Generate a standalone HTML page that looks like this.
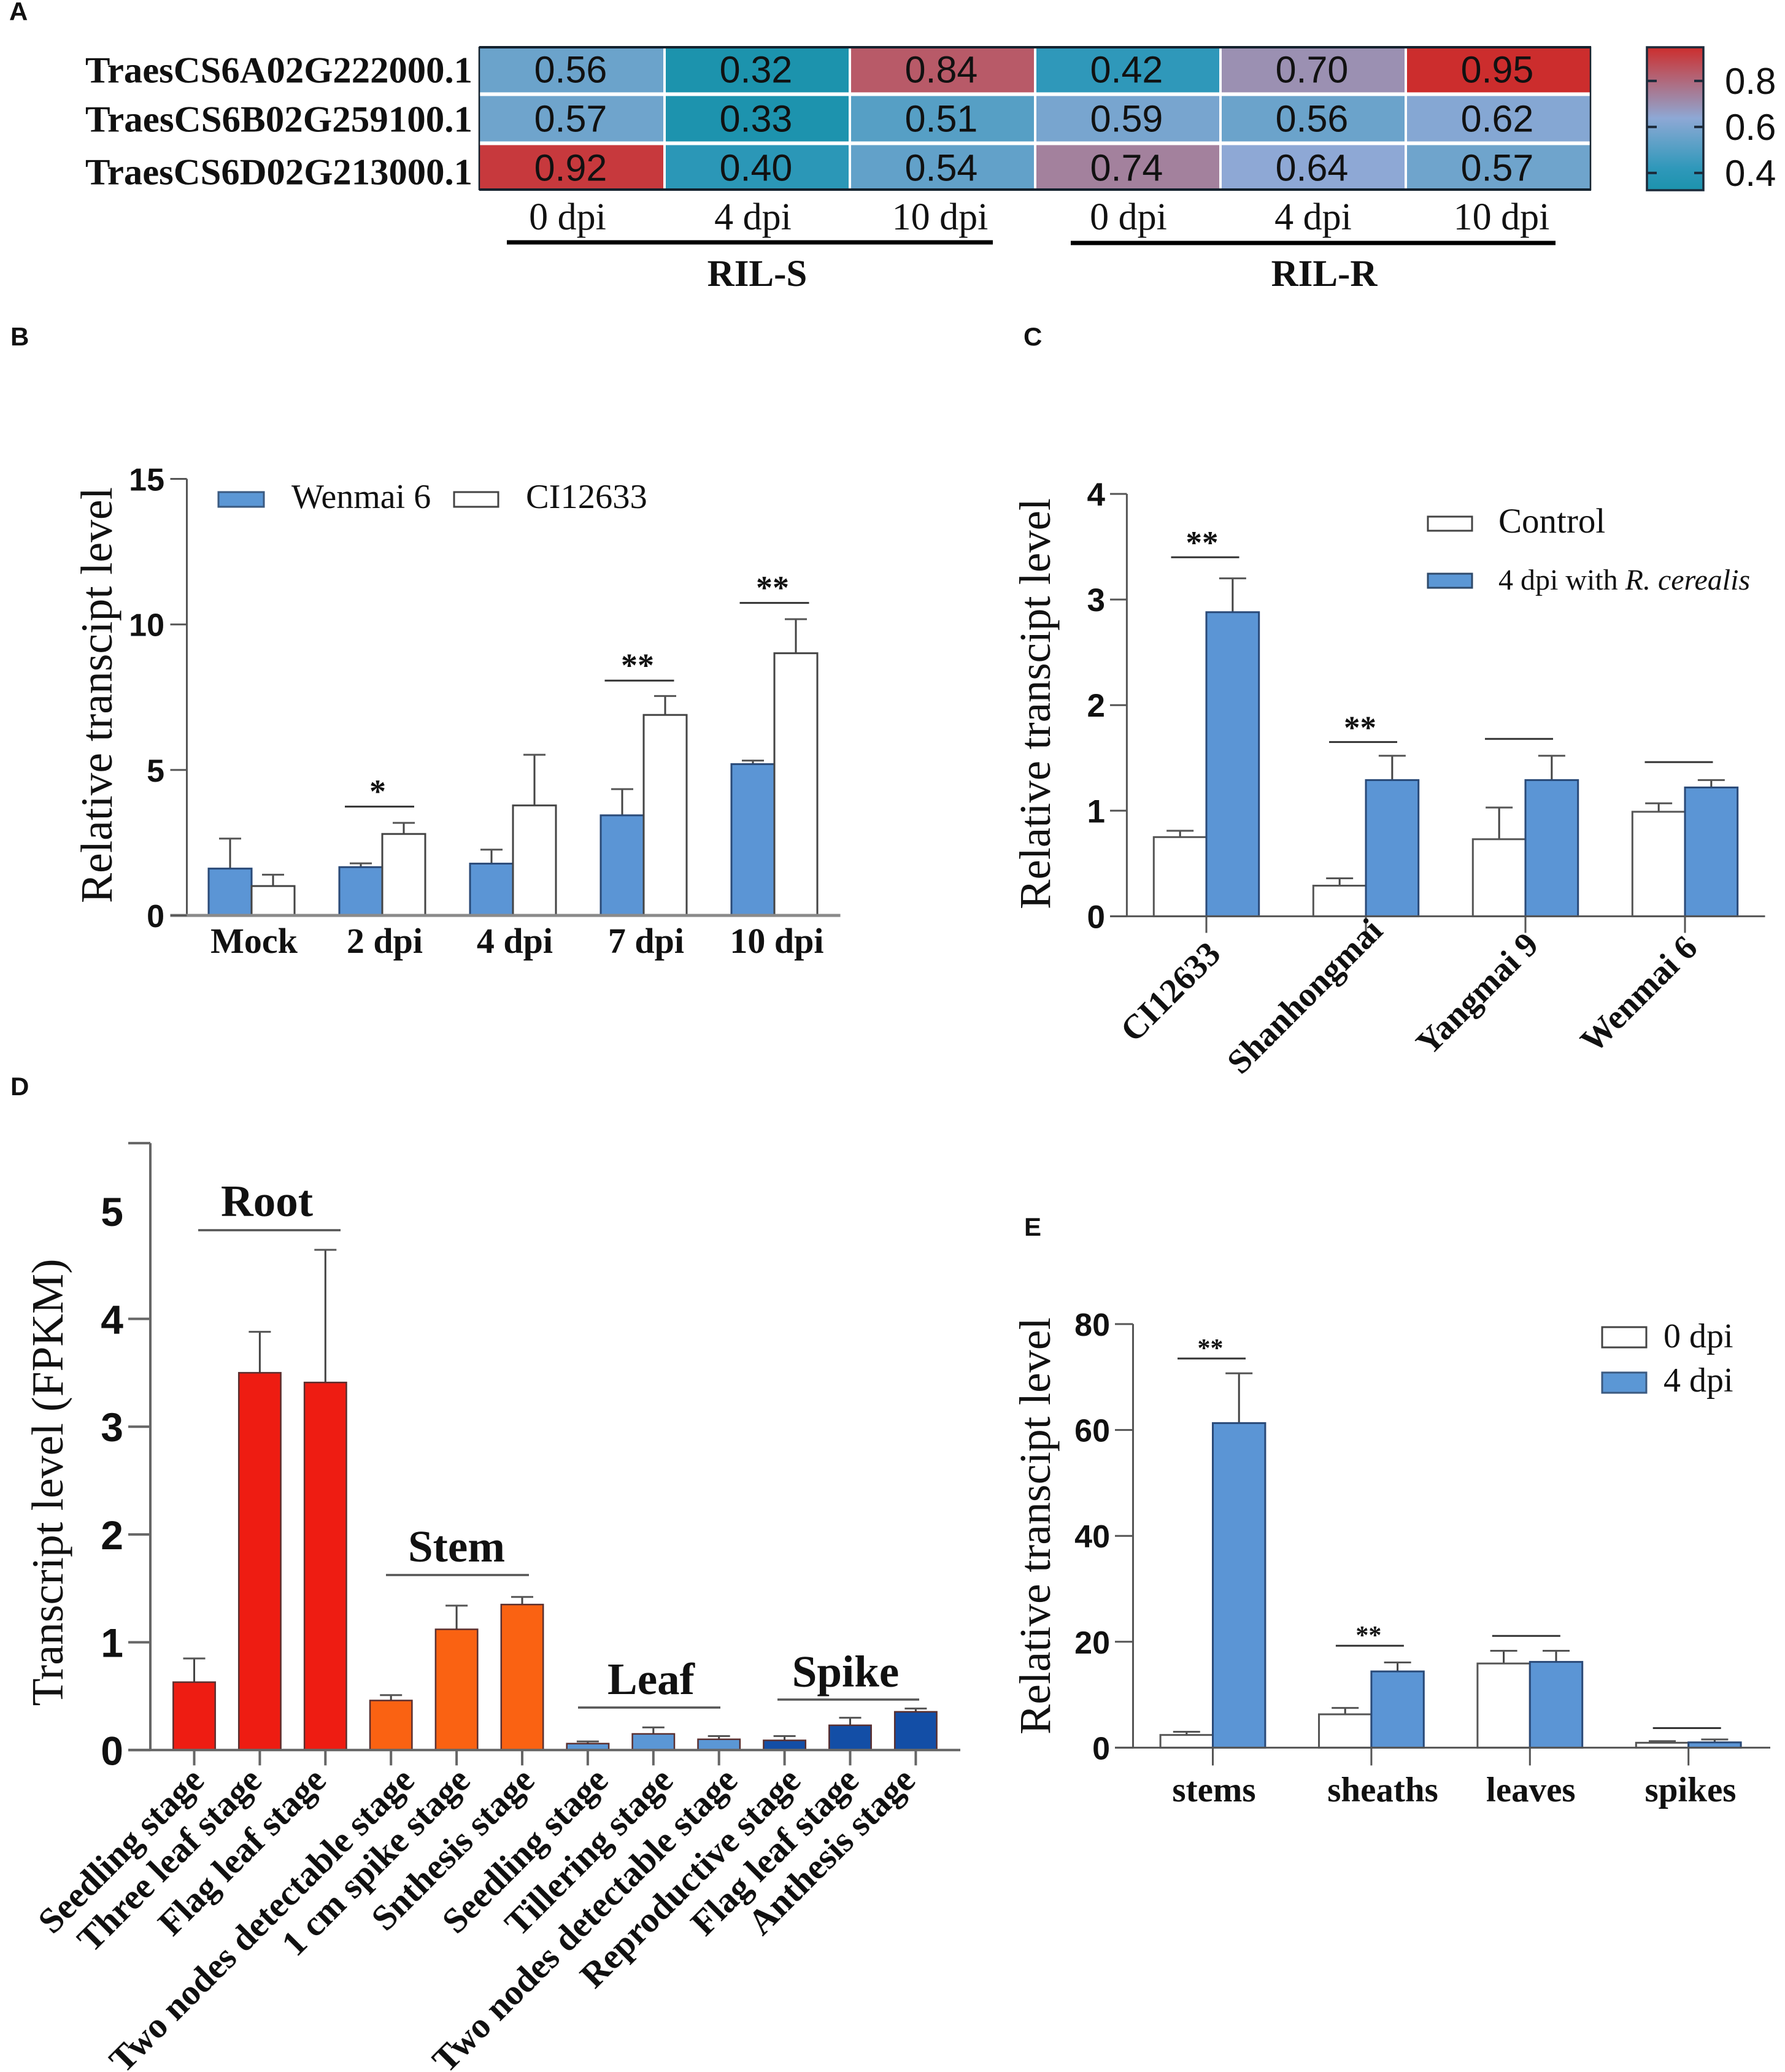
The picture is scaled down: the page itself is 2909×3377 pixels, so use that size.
<!DOCTYPE html>
<html lang="en">
<head>
<meta charset="utf-8">
<title>Transcript level figure panels A-E</title>
<style>
html,body{margin:0;padding:0;background:#fff;}
svg{display:block;}
.serif{font-family:"Liberation Serif",serif;fill:#111;}
.sans{font-family:"Liberation Sans",sans-serif;fill:#111;}
.b{font-weight:700;}
</style>
</head>
<body>
<svg id="figure" xmlns="http://www.w3.org/2000/svg" width="2909" height="3377" viewBox="0 0 2909 3377">
<defs><linearGradient id="heatGrad" x1="0" y1="0" x2="0" y2="1"></linearGradient></defs>
<rect x="0" y="0" width="2909" height="3377" fill="#fff"/>

<text class="sans b" x="15" y="33" font-size="42">A</text>
<text class="sans b" x="17" y="563" font-size="42">B</text>
<text class="sans b" x="1668" y="563" font-size="42">C</text>
<text class="sans b" x="17" y="1785" font-size="42">D</text>
<text class="sans b" x="1669" y="2014" font-size="42">E</text>

<g id="panelA">
  <rect x="2684" y="77" width="92" height="233" fill="url(#heatGrad)" stroke="#1c2a3a" stroke-width="3.5"/>
  <line x1="826" y1="395" x2="1618" y2="395" stroke="#000" stroke-width="7"/>
  <line x1="1745" y1="396" x2="2535" y2="396" stroke="#000" stroke-width="7"/>
  <text class="serif b" x="1234" y="466" font-size="61" text-anchor="middle">RIL-S</text>
  <text class="serif b" x="2158" y="466" font-size="61" text-anchor="middle">RIL-R</text>
</g>

<g id="panelB">
  <text class="serif" transform="rotate(-90 182 1133)" x="182" y="1133" font-size="73" text-anchor="middle" textLength="678" lengthAdjust="spacingAndGlyphs">Relative transcipt level</text>
  <rect x="356" y="802" width="74" height="24" fill="#5b97d5" stroke="#3b5a80" stroke-width="3"/>
  <text class="serif" x="475" y="828" font-size="56">Wenmai 6</text>
  <rect x="740" y="802" width="72" height="24" fill="#fff" stroke="#444" stroke-width="3"/>
  <text class="serif" x="857" y="828" font-size="56.5">CI12633</text>
</g>

<g id="panelC">
  <text class="serif" transform="rotate(-90 1711 1147)" x="1711" y="1147" font-size="72" text-anchor="middle" textLength="670" lengthAdjust="spacingAndGlyphs">Relative transcipt level</text>
  <rect x="2327" y="842" width="72" height="23" fill="#fff" stroke="#444" stroke-width="3"/>
  <text class="serif" x="2442" y="868" font-size="57">Control</text>
  <rect x="2327" y="935" width="72" height="23" fill="#5b97d5" stroke="#2f4a6a" stroke-width="3"/>
  <text class="serif" x="2442" y="961" font-size="48">4 dpi with <tspan font-style="italic">R. cerealis</tspan></text>
</g>

<g id="panelD">
  <text class="serif" transform="rotate(-90 102 2416)" x="102" y="2416" font-size="73" text-anchor="middle" textLength="729" lengthAdjust="spacingAndGlyphs">Transcript level (FPKM)</text>
  <text class="serif b" x="435" y="1982" font-size="73" text-anchor="middle">Root</text>
  <line x1="323" y1="2005" x2="555" y2="2005" stroke="#555" stroke-width="3.5"/>
  <text class="serif b" x="744" y="2545" font-size="73" text-anchor="middle">Stem</text>
  <line x1="629" y1="2567" x2="862" y2="2567" stroke="#555" stroke-width="3.5"/>
  <text class="serif b" x="1061" y="2761" font-size="73" text-anchor="middle">Leaf</text>
  <line x1="942" y1="2783" x2="1174" y2="2783" stroke="#555" stroke-width="3.5"/>
  <text class="serif b" x="1378" y="2749" font-size="73" text-anchor="middle">Spike</text>
  <line x1="1267" y1="2770" x2="1498" y2="2770" stroke="#555" stroke-width="3.5"/>
</g>

<g id="panelE">
  <text class="serif" transform="rotate(-90 1711 2487)" x="1711" y="2487" font-size="72" text-anchor="middle" textLength="680" lengthAdjust="spacingAndGlyphs">Relative transcipt level</text>
  <rect x="2611" y="2163" width="72" height="33" fill="#fff" stroke="#444" stroke-width="3"/>
  <text class="serif" x="2711" y="2196" font-size="56">0 dpi</text>
  <rect x="2611" y="2237" width="72" height="33" fill="#5b97d5" stroke="#3b5a80" stroke-width="3"/>
  <text class="serif" x="2711" y="2268" font-size="56">4 dpi</text>
</g>
</svg>

<script>
/* ---------- Panel A data ---------- */
const heatGenes = ['TraesCS6A02G222000.1', 'TraesCS6B02G259100.1', 'TraesCS6D02G213000.1'];
const heatTimes = ['0 dpi', '4 dpi', '10 dpi', '0 dpi', '4 dpi', '10 dpi'];
const heatRow1 = [0.56, 0.32, 0.84, 0.42, 0.70, 0.95];
const heatRow2 = [0.57, 0.33, 0.51, 0.59, 0.56, 0.62];
const heatRow3 = [0.92, 0.40, 0.54, 0.74, 0.64, 0.57];
const heatBarTicks = [0.8, 0.6, 0.4];

/* ---------- Panel B data ---------- */
const bCategories = ['Mock', '2 dpi', '4 dpi', '7 dpi', '10 dpi'];
const bWenmai = [1.61, 1.66, 1.78, 3.44, 5.20];
const bWenmaiErr = [1.03, 0.13, 0.48, 0.90, 0.12];
const bCI12633 = [1.01, 2.80, 3.78, 6.89, 9.01];
const bCI12633Err = [0.39, 0.38, 1.74, 0.65, 1.17];
const bTicks = [0, 5, 10, 15];
const bSigLevels = [null, 3.74, null, 8.07, 10.74];
const bSigMarks = ['', '*', '', '**', '**'];

/* ---------- Panel C data ---------- */
const cCategories = ['CI12633', 'Shanhongmai', 'Yangmai 9', 'Wenmai 6'];
const cControl = [0.75, 0.29, 0.73, 0.99];
const cControlErr = [0.06, 0.07, 0.30, 0.08];
const cInfected = [2.88, 1.29, 1.29, 1.22];
const cInfectedErr = [0.32, 0.23, 0.23, 0.07];
const cTicks = [0, 1, 2, 3, 4];
const cSigLevels = [3.40, 1.65, 1.68, 1.46];
const cSigMarks = ['**', '**', '', ''];

/* ---------- Panel D data ---------- */
const dCategories = ['Seedling stage', 'Three leaf stage', 'Flag leaf stage', 'Two nodes detectable stage', '1 cm spike stage', 'Snthesis stage', 'Seedling stage', 'Tillering stage', 'Two nodes detectable stage', 'Reproductive stage', 'Flag leaf stage', 'Anthesis stage'];
const dValues = [0.63, 3.50, 3.41, 0.46, 1.12, 1.35, 0.06, 0.15, 0.10, 0.09, 0.23, 0.355];
const dErrors = [0.22, 0.38, 1.23, 0.05, 0.22, 0.07, 0.02, 0.06, 0.03, 0.04, 0.07, 0.03];
const dTissueFill = ['#ee1c12', '#ee1c12', '#ee1c12', '#fa6212', '#fa6212', '#fa6212', '#5b97d5', '#5b97d5', '#5b97d5', '#134ea6', '#134ea6', '#134ea6'];
const dTicks = [0, 1, 2, 3, 4, 5, 5.63];
const dTickLabels = ['0', '1', '2', '3', '4', '5', ''];

/* ---------- Panel E data ---------- */
const eCategories = ['stems', 'sheaths', 'leaves', 'spikes'];
const eDay0 = [2.4, 6.3, 15.9, 0.93];
const eDay0Err = [0.6, 1.2, 2.4, 0.3];
const eDay4 = [61.3, 14.4, 16.2, 1.0];
const eDay4Err = [9.4, 1.7, 2.1, 0.55];
const eTicks = [0, 20, 40, 60, 80];
const eSigLevels = [73.5, 19.25, 21.1, 3.69];
const eSigMarks = ['**', '**', '', ''];

/* ---------- helpers ---------- */
const NS = 'http://www.w3.org/2000/svg';
function mk(tag, parent, attrs) {
  const el = document.createElementNS(NS, tag);
  for (const k in attrs) el.setAttribute(k, attrs[k]);
  parent.appendChild(el);
  return el;
}
function hex(c) { return [1, 3, 5].map(function (i) { return parseInt(c.substr(i, 2), 16); }); }

/* colour ramp for the heatmap */
const rampValues = [0.325, 0.42, 0.56, 0.64, 0.70, 0.84, 0.95];
const rampColors = ['#1c93ad', '#2f98ba', '#6ba3cb', '#8ea8d5', '#9b90b2', '#b85a68', '#cc2d2d'];
function heatColor(v) {
  let i = 0;
  while (i < rampValues.length - 2 && v > rampValues[i + 1]) i++;
  const t = Math.max(0, Math.min(1, (v - rampValues[i]) / (rampValues[i + 1] - rampValues[i])));
  const a = hex(rampColors[i]), b = hex(rampColors[i + 1]);
  return 'rgb(' + a.map(function (p, k) { return Math.round(p + (b[k] - p) * t); }).join(',') + ')';
}

/* ---------- Panel A drawing ---------- */
(function drawHeatmap() {
  const g = document.getElementById('panelA');
  const heatRows = [heatRow1, heatRow2, heatRow3];
  const cx = function (j) { return 781 + j * 302; };
  const cy = function (i) { return 76.5 + i * 80; };
  const labelNudge = [0, 0, 6];
  const timeCenter = [925, 1227, 1532, 1839, 2140, 2447];

  heatRows.forEach(function (row, i) {
    const lab = mk('text', g, { x: 770, y: cy(i) + 58 + labelNudge[i], 'font-size': 60, 'text-anchor': 'end', class: 'serif b', textLength: 631, lengthAdjust: 'spacingAndGlyphs' });
    lab.textContent = heatGenes[i];
    
    
    row.forEach(function (v, j) {
      const cell = mk('rect', g, { x: cx(j) + (j ? 2 : 0), y: cy(i), width: 302 - (j ? 2 : 0) - 2, height: 74, fill: heatColor(v) });
      
      
      const t = mk('text', g, { x: cx(j) + 149, y: cy(i) + 58, 'font-size': 61, 'text-anchor': 'middle', class: 'sans', fill: '#111' });
      t.textContent = v.toFixed(2);
      
      
    });
  });
  const edgeTop = mk('line', g, { x1: 781, y1: 77, x2: 2593, y2: 77, stroke: '#14222e', 'stroke-width': 4 });
  
  
  const edgeBottom = mk('line', g, { x1: 781, y1: 309, x2: 2593, y2: 309, stroke: '#14222e', 'stroke-width': 4 });
  
  
  const edgeL = mk('line', g, { x1: 781, y1: 76, x2: 781, y2: 310, stroke: '#14222e', 'stroke-width': 2.5 });
  
  
  const edgeR = mk('line', g, { x1: 2592, y1: 76, x2: 2592, y2: 310, stroke: '#14222e', 'stroke-width': 2.5 });
  
  

  heatTimes.forEach(function (s, j) {
    const t = mk('text', g, { x: timeCenter[j], y: 374, 'font-size': 62, 'text-anchor': 'middle', class: 'serif' });
    t.textContent = s;
    
    
  });

  /* colour bar */
  const grad = document.getElementById('heatGrad');
  const barTop = 0.949, barBottom = 0.325;
  rampValues.slice().reverse().forEach(function (v) {
    mk('stop', grad, { offset: Math.max(0, (barTop - v) / (barTop - barBottom)), 'stop-color': heatColor(v) });
  });
  const barY = function (v) { return 76 + (barTop - v) / (barTop - barBottom) * 234; };
  heatBarTicks.forEach(function (v) {
    const a = mk('line', g, { x1: 2684, x2: 2700, y1: barY(v), y2: barY(v), stroke: '#1c2a3a', 'stroke-width': 4 });
    
    
    const b = mk('line', g, { x1: 2761, x2: 2776, y1: barY(v), y2: barY(v), stroke: '#1c2a3a', 'stroke-width': 4 });
    
    
    const t = mk('text', g, { x: 2811, y: barY(v) + 21, 'font-size': 60, class: 'sans' });
    t.textContent = v.toFixed(1);
    
    
  });
})();

/* ---------- bar chart drawing ---------- */
function drawChart(c) {
  const g = document.getElementById(c.id);
  const yPos = function (v) { return c.y0 - v * c.ppu; };
  const xPos = function (i) { return c.x0 + i * c.step; };
  const n = c.series.length;

  c.series.forEach(function (s, si) {
    s.values.forEach(function (v, i) {
      const left = xPos(i) + (si - n / 2) * c.barW;
      const mid = left + c.barW / 2;
      const top = yPos(v);
      const capY = yPos(v + s.errors[i]);
      const stem = mk('line', g, { x1: mid, x2: mid, y1: top, y2: capY, stroke: '#444', 'stroke-width': c.errW });
      
      
      const cap = mk('line', g, { x1: mid - c.capW / 2, x2: mid + c.capW / 2, y1: capY, y2: capY, stroke: '#555', 'stroke-width': c.errW });
      
      
      const fill = s.fills ? s.fills[i] : s.fill;
      const edge = s.edge || '#2a4a78';
      const bar = mk('rect', g, { x: left, y: top, width: c.barW, height: c.y0 - top, fill: fill, stroke: edge, 'stroke-width': c.barStroke });
      
      
    });
  });

  /* axes */
  const yAxis = mk('line', g, { x1: c.axisX, x2: c.axisX, y1: yPos(c.ticks[c.ticks.length - 1]), y2: c.y0, stroke: c.axisColor, 'stroke-width': c.axisW });
  
  
  const xAxis = mk('line', g, { x1: c.tickX0, x2: c.xEnd, y1: c.y0, y2: c.y0, stroke: c.baseColor || c.axisColor, 'stroke-width': c.baseW || c.axisW });
  
  

  c.ticks.forEach(function (v, i) {
    if (!(c.unmarkedTicks && c.unmarkedTicks.indexOf(v) >= 0)) {
      const tk = mk('line', g, { x1: c.tickX0, x2: c.axisX, y1: yPos(v), y2: yPos(v), stroke: c.axisColor, 'stroke-width': c.axisW });
      
      
    }
    const label = c.tickLabels ? c.tickLabels[i] : String(v);
    if (label) {
      const t = mk('text', g, { x: c.tickTextX, y: yPos(v) + c.tickDy, 'font-size': c.tickFont, 'text-anchor': 'end', class: 'sans b' });
      t.textContent = label;
      
      
    }
  });

  /* categories */
  c.categories.forEach(function (name, i) {
    if (c.xTick) {
      const tk = mk('line', g, { x1: xPos(i), x2: xPos(i), y1: c.y0, y2: c.y0 + c.xTick, stroke: c.axisColor, 'stroke-width': c.axisW });
      
      
    }
    const px = xPos(i) + c.labelDx[i];
    const py = c.labelY + (c.labelDy ? c.labelDy[i] : 0);
    const attrs = { x: px, y: py, 'font-size': c.labelFont, class: 'serif b', 'text-anchor': c.rotate ? 'end' : 'middle' };
    if (c.rotate) attrs.transform = 'rotate(-45 ' + px + ' ' + py + ')';
    const t = mk('text', g, attrs);
    t.textContent = name;
    
    
  });

  /* significance markers */
  if (c.sigLevels) {
    c.sigLevels.forEach(function (lv, i) {
      if (lv === null) return;
      const cx = xPos(i) + c.sigShift[i];
      const ly = yPos(lv);
      const ln = mk('line', g, { x1: cx - c.sigHalf, x2: cx + c.sigHalf, y1: ly, y2: ly, stroke: '#333', 'stroke-width': 3 });
      
      
      if (c.sigMarks[i]) {
        const st = mk('text', g, { x: cx - c.starNudge, y: ly - c.starGap + c.starSize * 0.47, 'font-size': c.starSize, 'text-anchor': 'middle', class: 'serif b' });
        st.textContent = c.sigMarks[i];
        
        
      }
    });
  }
}

const BLUE = '#5b95d5';
drawChart({
  id: 'panelB', x0: 410, step: 213, barW: 70, y0: 1492, ppu: 47.43, axisX: 304.5, xEnd: 1369.5, tickX0: 277.5,
  axisColor: '#555', axisW: 3, baseColor: '#8a8a8a', baseW: 5, barStroke: 3, errW: 3, capW: 36,
  tickTextX: 268, tickFont: 52, tickDy: 19, ticks: bTicks, categories: bCategories,
  labelDx: [4, 4, 3, 4, 4], labelY: 1553, labelFont: 58, rotate: false, xTick: 0,
  sigLevels: bSigLevels, sigMarks: bSigMarks, sigShift: [0, -4.5, 0, -7, 0], sigHalf: 56.5, starGap: 32, starSize: 54, starNudge: 3,
  series: [
    { name: 'wenmai-6', values: bWenmai, errors: bWenmaiErr, fill: BLUE },
    { name: 'ci12633', values: bCI12633, errors: bCI12633Err, fill: '#fff', edge: '#444' }
  ]
});
drawChart({
  id: 'panelC', x0: 1966, step: 260, barW: 85.7, y0: 1493.4, ppu: 172.1, axisX: 1836.4, xEnd: 2876.5, tickX0: 1809,
  axisColor: '#555', axisW: 3, barStroke: 3, errW: 3, capW: 44,
  tickTextX: 1801, tickFont: 53, tickDy: 19, ticks: cTicks, categories: cCategories,
  labelDx: [26, 30, 24, 23], labelDy: [1, -37, -14, -9], labelY: 1557, labelFont: 56, rotate: true, xTick: 27,
  sigLevels: cSigLevels, sigMarks: cSigMarks, sigShift: [-2, -4.5, -10.5, -10], sigHalf: 55.5, starGap: 31, starSize: 53, starNudge: 5,
  series: [
    { name: 'control', values: cControl, errors: cControlErr, fill: '#fff', edge: '#555' },
    { name: '4-dpi', values: cInfected, errors: cInfectedErr, fill: BLUE }
  ]
});
drawChart({
  id: 'panelD', x0: 316.5, step: 106.9, barW: 68.4, y0: 2852.3, ppu: 175.7, axisX: 245, xEnd: 1565, tickX0: 209,
  axisColor: '#666', axisW: 4, barStroke: 2.5, errW: 3, capW: 36,
  tickTextX: 201, tickFont: 66, tickDy: 24, ticks: dTicks, tickLabels: dTickLabels, unmarkedTicks: [5], categories: dCategories,
  labelDx: [19, 6, 4, 41, 25, 23, 36, 35, 33, 29, 17, 2], labelY: 2905, labelFont: 58.5, rotate: true, xTick: 25,
  series: [
    { name: 'tissue', values: dValues, errors: dErrors, fills: dTissueFill, edge: '#5a2f2f' }
  ]
});
drawChart({
  id: 'panelE', x0: 1976.5, step: 258.4, barW: 85.4, y0: 2848.4, ppu: 8.63, axisX: 1846.5, xEnd: 2885, tickX0: 1817,
  axisColor: '#555', axisW: 3, barStroke: 3, errW: 3, capW: 44,
  tickTextX: 1809, tickFont: 52, tickDy: 19, ticks: eTicks, categories: eCategories,
  labelDx: [2, 18.6, 1.5, 3.3], labelY: 2936, labelFont: 57, rotate: false, xTick: 29,
  sigLevels: eSigLevels, sigMarks: eSigMarks, sigShift: [-2, -2.5, -6, -2.5], sigHalf: 55.5, starGap: 23, starSize: 42, starNudge: 2,
  series: [
    { name: '0-dpi', values: eDay0, errors: eDay0Err, fill: '#fff', edge: '#555' },
    { name: '4-dpi', values: eDay4, errors: eDay4Err, fill: BLUE }
  ]
});
</script>
</body>
</html>
